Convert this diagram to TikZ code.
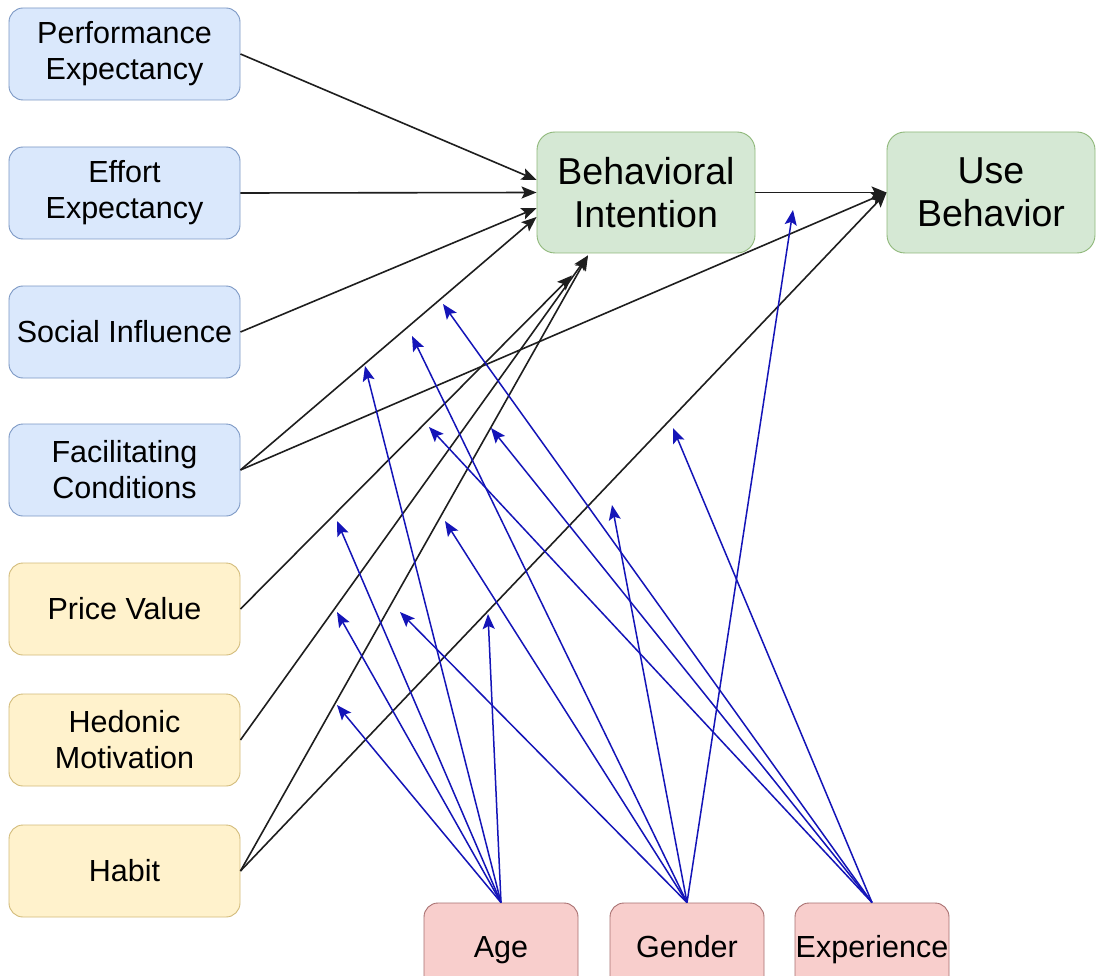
\documentclass[tikz,border=0pt]{standalone}
\usepackage{fontspec}
\setmainfont{Liberation Sans}
\usetikzlibrary{arrows.meta}
\definecolor{bfill}{HTML}{DAE8FC}\definecolor{bdraw}{HTML}{7C98C4}
\definecolor{yfill}{HTML}{FFF2CC}\definecolor{ydraw}{HTML}{D2BB7A}
\definecolor{gfill}{HTML}{D5E8D4}\definecolor{gdraw}{HTML}{8FB87A}
\definecolor{rfill}{HTML}{F8CECC}\definecolor{rdraw}{HTML}{A87070}
\definecolor{modblue}{HTML}{1414B8}
\definecolor{effblack}{HTML}{1E1E1E}
\begin{document}
\begin{tikzpicture}[x=1pt,y=-1pt,
  box/.style={rectangle, rounded corners=14pt, line width=0.9pt, align=center, inner sep=0pt, font=\fontsize{30.5}{36}\selectfont},
  cbox/.style={box, minimum width=231pt, minimum height=92pt},
  blu/.style={cbox, fill=bfill, draw=bdraw},
  yel/.style={cbox, fill=yfill, draw=ydraw},
  grn/.style={box, fill=gfill, draw=gdraw, minimum height=121pt, rounded corners=18pt, font=\fontsize{37.5}{43}\selectfont},
  modbox/.style={box, fill=rfill, draw=rdraw, minimum width=154pt, minimum height=92pt, text height=22pt, text depth=6pt},
  effect/.style={line width=1.6pt, draw=effblack, -{Stealth[length=15pt,width=12pt,inset=3pt]}},
  modarrow/.style={line width=1.5pt, draw=modblue, -{Stealth[length=15pt,width=12pt,inset=3pt]}}
]
\clip (0,0) rectangle (1097,976);
\fill[white] (0,0) rectangle (1097,976);

% determinants
\node[blu] (pe) at (124.5,54) {Performance\\Expectancy};
\node[blu] (ee) at (124.5,193) {Effort\\Expectancy};
\node[blu] (si) at (124.5,332) {Social Influence};
\node[blu] (fc) at (124.5,470) {Facilitating\\Conditions};
\node[yel] (pv) at (124.5,609) {Price Value};
\node[yel] (hm) at (124.5,740) {Hedonic\\Motivation};
\node[yel] (ht) at (124.5,871) {Habit};

% outcomes
\node[grn, minimum width=218pt] (bi) at (646,192.5) {Behavioral\\Intention};
\node[grn, minimum width=208pt] (ub) at (991,192.5) {Use\\Behavior};

% moderators
\node[modbox] (age) at (501,949) {Age};
\node[modbox] (gender) at (687,949) {Gender};
\node[modbox] (exp) at (872,949) {Experience};

% main effects
\draw[effect] (pe.east) -- ([yshift=12.5pt]bi.west);
\draw[effect] (ee.east) -- (bi.west);
\draw[effect] (si.east) -- ([yshift=-15.5pt]bi.west);
\draw[effect] (fc.east) -- ([yshift=-24.5pt]bi.west);
\draw[effect] (fc.east) -- (ub.west);
\draw[effect] (pv.east) -- ([xshift=-74pt,yshift=-22pt]bi.south);
\draw[effect] (hm.east) -- ([xshift=-58pt,yshift=-2pt]bi.south);
\draw[effect] (ht.east) -- ([xshift=-58pt,yshift=-2pt]bi.south);
\draw[effect] (ht.east) -- (ub.west);
\draw[effect] (bi.east) -- (ub.west);

% moderation target points
\coordinate (m1) at (793,210);
\coordinate (m2) at (443,304);
\coordinate (m3) at (412,336);
\coordinate (m4) at (365,366);
\coordinate (m5) at (429,427);
\coordinate (m6) at (491,428);
\coordinate (m7) at (673,428);
\coordinate (m8) at (337,521);
\coordinate (m9) at (445,521);
\coordinate (m10) at (612,505);
\coordinate (m11) at (337,612);
\coordinate (m12) at (400,612);
\coordinate (m13) at (488,614);
\coordinate (m14) at (337,705);

% moderation arrows
\foreach \t in {m4,m8,m11,m13,m14} \draw[modarrow] (age.north) -- (\t);
\foreach \t in {m1,m3,m9,m10,m12} \draw[modarrow] (gender.north) -- (\t);
\foreach \t in {m2,m5,m6,m7} \draw[modarrow] (exp.north) -- (\t);
\end{tikzpicture}
\end{document}
